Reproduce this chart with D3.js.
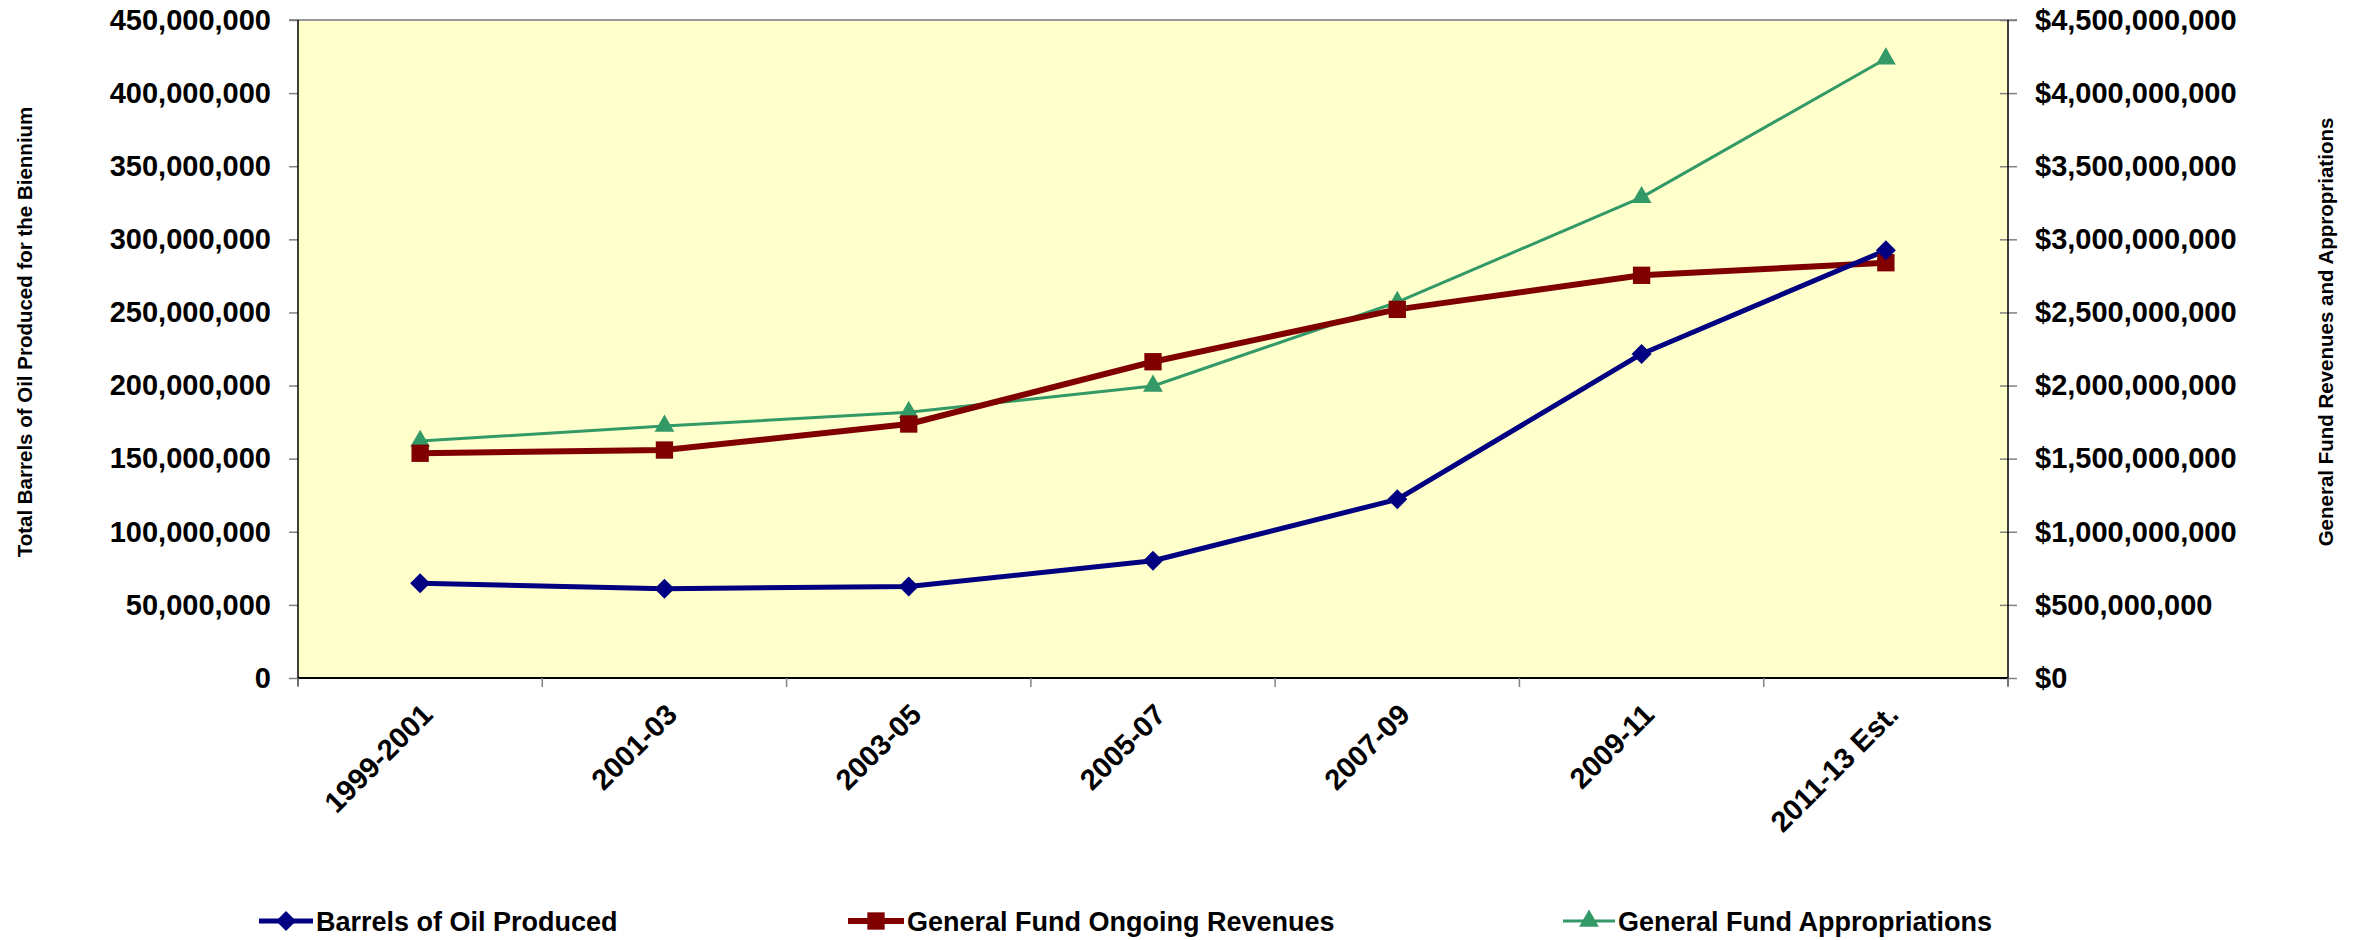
<!DOCTYPE html>
<html>
<head>
<meta charset="utf-8">
<script src="https://cdn.jsdelivr.net/npm/d3@7"></script>
<style>
  html, body { margin: 0; padding: 0; background: #ffffff; }
  svg { display: block; }
  text { font-family: "Liberation Sans", Arial, sans-serif; font-weight: bold; fill: #000; }
</style>
</head>
<body>
<svg id="chart" width="2363" height="940"></svg>
<script>
const categories = ["1999-2001", "2001-03", "2003-05", "2005-07", "2007-09", "2009-11", "2011-13 Est."];
const barrels = [64800000, 61100000, 62500000, 80200000, 122200000, 221600000, 292500000];
const revenues = [1537000000, 1559000000, 1737000000, 2163000000, 2521000000, 2754000000, 2840000000];
const appropriations = [1620000000, 1723000000, 1817000000, 1997000000, 2570000000, 3287000000, 4235000000];
const leftTicks = [0, 50000000, 100000000, 150000000, 200000000, 250000000, 300000000, 350000000, 400000000, 450000000];
const rightTicks = [0, 500000000, 1000000000, 1500000000, 2000000000, 2500000000, 3000000000, 3500000000, 4000000000, 4500000000];
const seriesNames = ["Barrels of Oil Produced", "General Fund Ongoing Revenues", "General Fund Appropriations"];

const svg = d3.select("#chart");
const L = 298, R = 2008, T = 20, B = 678;

const x = d3.scaleBand().domain(categories).range([L, R]).padding(0);
const yL = d3.scaleLinear().domain([0, 450000000]).range([B, T]);
const yR = d3.scaleLinear().domain([0, 4500000000]).range([B, T]);

// plot background
svg.append("rect").attr("x", L).attr("y", T).attr("width", R - L).attr("height", B - T)
  .attr("fill", "#FFFFCC");

// top border (gray)
svg.append("line").attr("x1", L - 9).attr("x2", R + 9).attr("y1", T).attr("y2", T)
  .attr("stroke", "#999999").attr("stroke-width", 2);

const fmt = d3.format(",");

// left axis
const gL = svg.append("g").attr("transform", `translate(${L},0)`)
  .call(d3.axisLeft(yL).tickValues(leftTicks).tickSize(9).tickPadding(18).tickFormat(d => fmt(d)));
gL.select(".domain").remove();
gL.selectAll(".tick line").attr("stroke", "#808080").attr("stroke-width", 1.5);
gL.selectAll(".tick text").style("font-size", "29px").style("font-family", "'Liberation Sans', Arial, sans-serif").style("font-weight", "bold").attr("fill", "#000");
svg.append("line").attr("x1", L).attr("x2", L).attr("y1", T).attr("y2", B + 8).attr("stroke", "#000").attr("stroke-width", 1.5);

// right axis
const gR = svg.append("g").attr("transform", `translate(${R},0)`)
  .call(d3.axisRight(yR).tickValues(rightTicks).tickSize(9).tickPadding(18).tickFormat(d => "$" + fmt(d)));
gR.select(".domain").remove();
gR.selectAll(".tick line").attr("x1", -8).attr("stroke", "#808080").attr("stroke-width", 1.5);
gR.selectAll(".tick text").style("font-size", "29px").style("font-family", "'Liberation Sans', Arial, sans-serif").style("font-weight", "bold").attr("fill", "#000");
svg.append("line").attr("x1", R).attr("x2", R).attr("y1", T).attr("y2", B + 8).attr("stroke", "#000").attr("stroke-width", 1.5);

// bottom axis
svg.append("line").attr("x1", L).attr("x2", R).attr("y1", B).attr("y2", B).attr("stroke", "#000").attr("stroke-width", 2);
const boundaries = categories.map(c => x(c)).concat([R]);
svg.append("g").selectAll("line").data(boundaries).join("line")
  .attr("x1", d => d).attr("x2", d => d).attr("y1", B).attr("y2", B + 9)
  .attr("stroke", "#808080").attr("stroke-width", 1.5);
svg.append("g").selectAll("text").data(categories).join("text")
  .attr("transform", d => `translate(${x(d) + x.bandwidth() / 2 + 0},${B + 24}) rotate(-45)`)
  .attr("text-anchor", "end").attr("dy", "0.7em")
  .style("font-size", "29px")
  .text(d => d);

// axis titles
svg.append("text").attr("transform", `translate(32,332) rotate(-90)`)
  .attr("text-anchor", "middle").style("font-size", "20.5px")
  .text("Total Barrels of Oil Produced for the Biennium");
svg.append("text").attr("transform", `translate(2333,332) rotate(-90)`)
  .attr("text-anchor", "middle").style("font-size", "20.5px")
  .text("General Fund Revenues and Appropriations");

const cx = d => x(d) + x.bandwidth() / 2;

// series
const colors = ["#000080", "#800000", "#339966"];
const widths = [5, 6, 3];

function drawSeries(vals, scale, color, width) {
  const line = d3.line().x((d, i) => cx(categories[i])).y(d => scale(d));
  svg.append("path").datum(vals).attr("d", line).attr("fill", "none")
    .attr("stroke", color).attr("stroke-width", width).attr("stroke-linejoin", "round");
}
drawSeries(appropriations, yR, colors[2], widths[2]);
drawSeries(revenues, yR, colors[1], widths[1]);
drawSeries(barrels, yL, colors[0], widths[0]);

const diamond = d3.symbol().type(d3.symbolSquare).size(200);
const square = d3.symbol().type(d3.symbolSquare).size(300);
const triangle = d3.symbol().type(d3.symbolTriangle).size(170);

svg.append("g").selectAll("path").data(appropriations).join("path")
  .attr("d", triangle).attr("fill", colors[2])
  .attr("transform", (d, i) => `translate(${cx(categories[i])},${yR(d)})`);
svg.append("g").selectAll("path").data(revenues).join("path")
  .attr("d", square).attr("fill", colors[1])
  .attr("transform", (d, i) => `translate(${cx(categories[i])},${yR(d)})`);
svg.append("g").selectAll("path").data(barrels).join("path")
  .attr("d", diamond).attr("fill", colors[0])
  .attr("transform", (d, i) => `translate(${cx(categories[i])},${yL(d)}) rotate(45)`);

// legend
const legendY = 921;
const legendItems = [
  { name: seriesNames[0], x0: 259, x1: 313, color: colors[0], w: widths[0], sym: diamond, rot: 45 },
  { name: seriesNames[1], x0: 848, x1: 904, color: colors[1], w: widths[1], sym: square, rot: 0 },
  { name: seriesNames[2], x0: 1563, x1: 1615, color: colors[2], w: widths[2], sym: triangle, rot: 0 }
];
const lg = svg.append("g");
legendItems.forEach(it => {
  lg.append("line").attr("x1", it.x0).attr("x2", it.x1).attr("y1", legendY).attr("y2", legendY)
    .attr("stroke", it.color).attr("stroke-width", it.w);
  lg.append("path").attr("d", it.sym).attr("fill", it.color)
    .attr("transform", `translate(${(it.x0 + it.x1) / 2},${legendY}) rotate(${it.rot})`);
  lg.append("text").attr("x", it.x1 + 3).attr("y", legendY).attr("dy", "0.36em")
    .style("font-size", "27px").text(it.name);
});
</script>
</body>
</html>
